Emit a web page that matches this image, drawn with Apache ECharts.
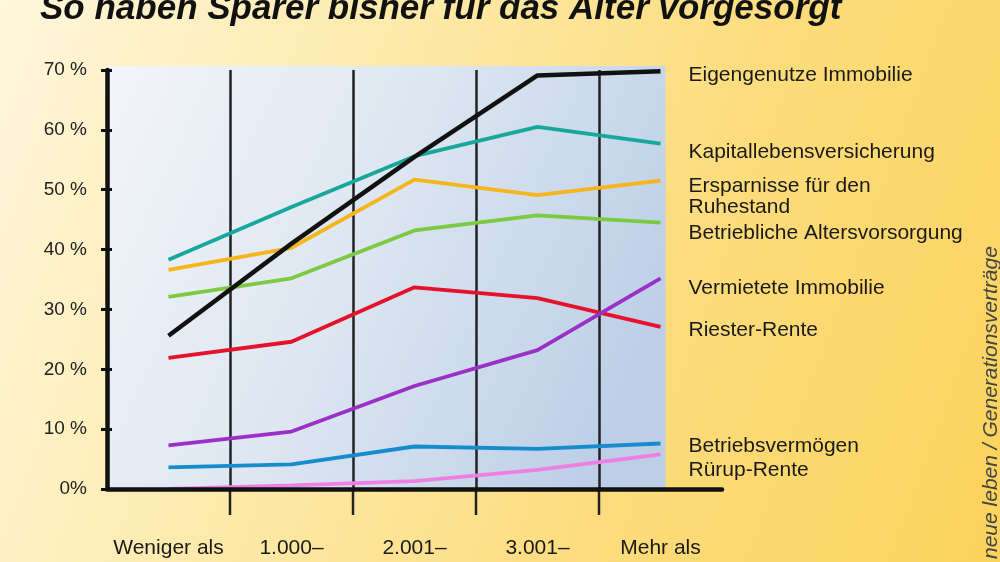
<!DOCTYPE html>
<html><head><meta charset="utf-8">
<script src="https://cdn.jsdelivr.net/npm/echarts@6/dist/echarts.min.js"></script>
<style>
html,body{margin:0;padding:0;width:1000px;height:562px;overflow:hidden;}
#c{width:1000px;height:562px;background:linear-gradient(110deg,#fff6dc 0%,#fdeaa9 35%,#fcdc7d 65%,#fbd35c 100%);}
</style>
</head><body><div id="c"></div>
<script>
// ---- data ----
const categories = ['Weniger als', '1.000–', '2.001–', '3.001–', 'Mehr als'];
const yTickLabels = ['0%', '10 %', '20 %', '30 %', '40 %', '50 %', '60 %', '70 %'];
const seriesNames = ['Kapitallebensversicherung', 'Ersparnisse für den Ruhestand', 'Betriebliche Altersvorsorgung',
  'Riester-Rente', 'Vermietete Immobilie', 'Betriebsvermögen', 'Rürup-Rente', 'Eigengenutze Immobilie'];
const labelTexts = ['Kapitallebensversicherung', 'Ersparnisse für den\nRuhestand', 'Betriebliche Altersvorsorgung',
  'Riester-Rente', 'Vermietete Immobilie', 'Betriebsvermögen', 'Rürup-Rente', 'Eigengenutze Immobilie'];
const kapitalleben   = [38.3, 47.1, 55.6, 60.5, 57.7];
const ersparnisse    = [36.6, 40.3, 51.7, 49.1, 51.5];
const betrieblicheAV = [32.1, 35.2, 43.2, 45.7, 44.5];
const riester        = [21.9, 24.6, 33.7, 31.9, 27.1];
const vermietete     = [7.3, 9.6, 17.2, 23.2, 35.2];
const betriebsverm   = [3.6, 4.1, 7.1, 6.7, 7.6];
const ruerup         = [0, 0.6, 1.3, 3.2, 5.8];
const eigengenutzt   = [25.6, 41.0, 55.5, 69.1, 69.8];
const seriesData = [kapitalleben, ersparnisse, betrieblicheAV, riester, vermietete, betriebsverm, ruerup, eigengenutzt];

// ---- styles ----
const colors = ['#17a89b', '#f6b51c', '#7cc942', '#e5122b', '#9a30c8', '#168bcd', '#f07fe4', '#111111'];
const labelDy = [9, 16, 11, 3, 10, 2.5, 16, 4];
const FONT = '"Liberation Sans", Arial, sans-serif';

const chart = echarts.init(document.getElementById('c'));
const option = {
  animation: false,
  backgroundColor: 'transparent',
  title: {
    text: 'So haben Sparer bisher für das Alter vorgesorgt',
    left: 35, top: -13,
    textStyle: {fontSize: 35, fontWeight: 'bold', fontStyle: 'italic', color: '#111', fontFamily: FONT}
  },
  grid: {left: 107, right: 278, top: 70, bottom: 73, containLabel: false},
  xAxis: [{
    type: 'category', data: categories, boundaryGap: true,
    axisLine: {show: false},
    axisTick: {show: false},
    axisLabel: {margin: 49, fontSize: 21, color: '#1a1a1a', fontFamily: FONT, interval: 0},
    splitLine: {show: true, showMinLine: false, showMaxLine: false, lineStyle: {color: '#222', width: 2.5}}
  }, {
    type: 'category', data: categories, boundaryGap: true, position: 'bottom', z: 5,
    axisLine: {show: true, lineStyle: {color: '#111', width: 4.5}},
    axisTick: {show: false}, axisLabel: {show: false}, splitLine: {show: false}
  }],
  yAxis: [{
    type: 'value', min: 0, max: 70, interval: 10, position: 'left', z: 5,
    axisLine: {show: true, lineStyle: {color: '#111', width: 4.5}},
    axisTick: {show: true, length: 6, lineStyle: {color: '#111', width: 3}},
    axisLabel: {margin: 20, fontSize: 19, color: '#222', fontFamily: FONT,
      formatter: v => yTickLabels[Math.round(v / 10)]},
    splitLine: {show: false}
  }, {
    type: 'value', min: 0, max: 70, interval: 10, position: 'left', z: 5,
    axisLine: {show: false},
    axisTick: {show: true, inside: true, length: 5, lineStyle: {color: '#111', width: 3}},
    axisLabel: {show: false}, splitLine: {show: false}
  }],
  series: seriesData.map((d, i) => ({
    type: 'line', name: seriesNames[i], data: d, xAxisIndex: 0, yAxisIndex: 0,
    symbol: 'none', smooth: false, z: i === 7 ? 4 : 3,
    lineStyle: {color: colors[i], width: i === 7 ? 4.5 : 3.8},
    itemStyle: {color: colors[i]},
    endLabel: {
      show: true, formatter: () => labelTexts[i], distance: 0, offset: [28, labelDy[i]],
      fontSize: 21, lineHeight: 21, color: '#1a1a1a', fontFamily: FONT, align: 'left'
    }
  }))
};
chart.setOption(option);

// decoration computed from the axes
const px = i => chart.convertToPixel({xAxisIndex: 0}, i);
const py = v => chart.convertToPixel({yAxisIndex: 0}, v);
const band = px(1) - px(0);
const left = px(0) - band / 2;
const yB = py(0), yT = py(70);
const graphics = [{
  type: 'rect', z: -1, silent: true,
  shape: {x: left, y: yT - 4, width: px(categories.length - 1) + 5 - left, height: yB - yT + 4},
  style: {fill: new echarts.graphic.LinearGradient(0, 0, 1, 0.6, [
    {offset: 0, color: '#f2f5f9'}, {offset: 0.5, color: '#dde6f1'}, {offset: 1, color: '#bccfe7'}])}
}];
for (let i = 1; i < categories.length; i++) {
  const x = px(i) - band / 2;
  graphics.push({type: 'line', z: 1, silent: true,
    shape: {x1: x, y1: yB, x2: x, y2: yB + 26},
    style: {stroke: '#222', lineWidth: 2.5}});
}
graphics.push({
  type: 'text', x: 991, y: 559, rotation: Math.PI / 2, silent: true,
  style: {text: 'neue leben / Generationsverträge', fontSize: 21, fontStyle: 'italic',
    fontFamily: FONT, fill: '#444', align: 'left', verticalAlign: 'middle'}
});
chart.setOption({graphic: graphics});
</script>
</body></html>
